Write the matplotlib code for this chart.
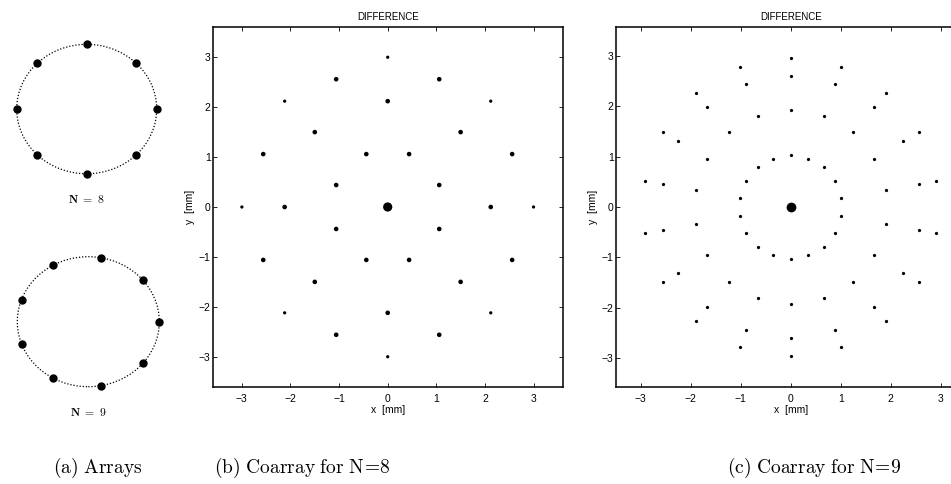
import matplotlib
matplotlib.use("Agg")
import matplotlib.pyplot as plt
from matplotlib.patches import Circle

plt.rcParams['font.family'] = ['Liberation Sans', 'DejaVu Sans']
plt.rcParams['mathtext.fontset'] = 'cm'

# element positions [mm] of the two circular arrays (radius 1.5 mm)
arr8_x = [1.50, 1.06, 0.00, -1.06, -1.50, -1.06, 0.00, 1.06]
arr8_y = [0.00, 1.06, 1.50, 1.06, 0.00, -1.06, -1.50, -1.06]
arr9_x = [1.50, 1.15, 0.26, -0.75, -1.41, -1.41, -0.75, 0.26, 1.15]
arr9_y = [0.00, 0.96, 1.48, 1.30, 0.51, -0.51, -1.30, -1.48, -0.96]
array_radius = 1.5

# difference coarray, N = 8 (x, y in mm, weight = number of pairs)
c8_x = [0.00,
        1.06, 0.44, -0.44, -1.06, -1.06, -0.44, 0.44, 1.06,
        2.12, 1.50, 0.00, -1.50, -2.12, -1.50, 0.00, 1.50,
        2.56, 1.06, -1.06, -2.56, -2.56, -1.06, 1.06, 2.56,
        3.00, 2.12, 0.00, -2.12, -3.00, -2.12, 0.00, 2.12]
c8_y = [0.00,
        0.44, 1.06, 1.06, 0.44, -0.44, -1.06, -1.06, -0.44,
        0.00, 1.50, 2.12, 1.50, 0.00, -1.50, -2.12, -1.50,
        1.06, 2.56, 2.56, 1.06, -1.06, -2.56, -2.56, -1.06,
        0.00, 2.12, 3.00, 2.12, 0.00, -2.12, -3.00, -2.12]
c8_w = [8,
        2, 2, 2, 2, 2, 2, 2, 2,
        2, 2, 2, 2, 2, 2, 2, 2,
        2, 2, 2, 2, 2, 2, 2, 2,
        1, 1, 1, 1, 1, 1, 1, 1]

# difference coarray, N = 9: origin (weight 9) + 72 single points
c9_origin_w = 9
c9_x = [1.01, 0.89, 0.66, 0.35, 0.00, -0.35, -0.66, -0.89, -1.01,
        -1.01, -0.89, -0.66, -0.35, 0.00, 0.35, 0.66, 0.89, 1.01,
        1.90, 1.67, 1.24, 0.66, 0.00, -0.66, -1.24, -1.67, -1.90,
        -1.90, -1.67, -1.24, -0.66, 0.00, 0.66, 1.24, 1.67, 1.90,
        2.56, 2.25, 1.67, 0.89, 0.00, -0.89, -1.67, -2.25, -2.56,
        -2.56, -2.25, -1.67, -0.89, 0.00, 0.89, 1.67, 2.25, 2.56,
        2.91, 2.56, 1.90, 1.01, 0.00, -1.01, -1.90, -2.56, -2.91,
        -2.91, -2.56, -1.90, -1.01, 0.00, 1.01, 1.90, 2.56, 2.91]
c9_y = [0.18, 0.51, 0.79, 0.96, 1.03, 0.96, 0.79, 0.51, 0.18,
        -0.18, -0.51, -0.79, -0.96, -1.03, -0.96, -0.79, -0.51, -0.18,
        0.33, 0.96, 1.48, 1.81, 1.93, 1.81, 1.48, 0.96, 0.33,
        -0.33, -0.96, -1.48, -1.81, -1.93, -1.81, -1.48, -0.96, -0.33,
        0.45, 1.30, 1.99, 2.44, 2.60, 2.44, 1.99, 1.30, 0.45,
        -0.45, -1.30, -1.99, -2.44, -2.60, -2.44, -1.99, -1.30, -0.45,
        0.51, 1.48, 2.26, 2.78, 2.95, 2.78, 2.26, 1.48, 0.51,
        -0.51, -1.48, -2.26, -2.78, -2.95, -2.78, -2.26, -1.48, -0.51]
c9_w = 1

ticks = [-3, -2, -1, 0, 1, 2, 3]
tick_labels = ["\u22123", "\u22122", "\u22121", "0", "1", "2", "3"]
captions = [r"$\mathrm{(a)\ Arrays}$",
            r"$\mathrm{(b)\ Coarray\ for\ N}\!=\!\mathrm{8}$",
            r"$\mathrm{(c)\ Coarray\ for\ N}\!=\!\mathrm{9}$"]

W, H = 951, 484
fig = plt.figure(figsize=(W / 100, H / 100), dpi=100)


def px_axes(left, top, width, height):
    return fig.add_axes([left / W, 1 - (top + height) / H, width / W, height / H])


# (a) the two arrays
for xs, ys, box, label in [(arr8_x, arr8_y, (2.7, 31.4, 168, 155.3), r"$\mathbf{N\ =\ 8}$"),
                           (arr9_x, arr9_y, (3.1, 243.7, 170.4, 156), r"$\mathbf{N\ =\ 9}$")]:
    ax = px_axes(*box)
    ax.set_xlim(-1.8, 1.8)
    ax.set_ylim(-1.8, 1.8)
    ax.axis('off')
    ax.add_patch(Circle((0, 0), array_radius, fill=False, ls=(0, (1, 1.5)), lw=0.9, color='k'))
    ax.plot(xs, ys, 'o', color='k', ms=5)
    ax.text(0, -2.1, label, ha='center', va='center', fontsize=8.5)


def coarray_axes(ax, xlim, ylim):
    ax.set_xlim(*xlim)
    ax.set_ylim(*ylim)
    ax.set_xticks(ticks)
    ax.set_yticks(ticks)
    ax.set_xticklabels(tick_labels)
    ax.set_yticklabels(tick_labels)
    ax.tick_params(direction='in', top=True, right=True, length=3, width=0.6, labelsize=7.5)
    ax.tick_params(axis='x', pad=5)
    ax.tick_params(axis='y', pad=1.5)
    for s in ax.spines.values():
        s.set_linewidth(1.1)
    ax.set_title("DIFFERENCE", fontsize=7, pad=5)
    ax.set_xlabel("x  [mm]", fontsize=7.5, labelpad=1)
    ax.set_ylabel("y  [mm]", fontsize=7.5, labelpad=3)


dot = 5.5  # marker area per pair

# (b) coarray N = 8
axb = px_axes(212.7, 27.3, 350, 359.4)
coarray_axes(axb, (-3.6, 3.6), (-3.6, 3.6))
axb.scatter(c8_x, c8_y, s=[dot * w for w in c8_w], c='k', linewidths=0)

# (c) coarray N = 9
axc = px_axes(615.7, 27.3, 350, 359.4)
coarray_axes(axc, (-3.5, 3.5), (-3.56, 3.56))
axc.scatter(c9_x, c9_y, s=dot * c9_w, c='k', linewidths=0)
axc.scatter([0], [0], s=dot * c9_origin_w, c='k', linewidths=0)

# sub-figure captions
for xc, cap in zip([98, 302, 814], captions):
    fig.text(xc / W, 1 - 468 / H, cap, ha='center', va='center', fontsize=14)

fig.savefig("out.png", dpi=100)
